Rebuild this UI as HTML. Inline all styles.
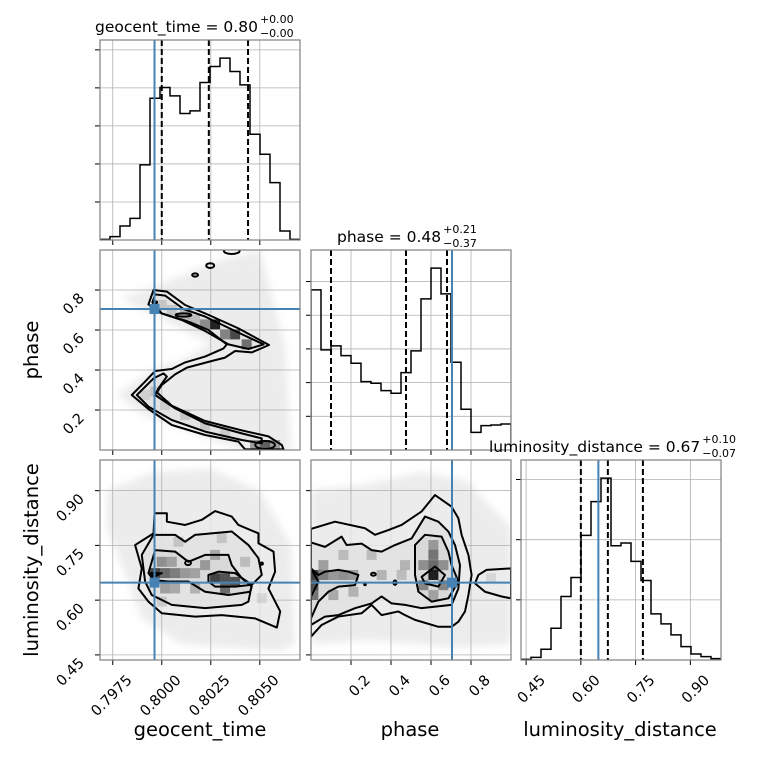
<!DOCTYPE html>
<html><head><meta charset="utf-8"><style>
html,body{margin:0;padding:0;background:#fff;}
svg{display:block;font-family:"DejaVu Sans","Liberation Sans",sans-serif;}
</style></head><body>
<svg id="fig" width="760" height="760" viewBox="0 0 760 760" xmlns="http://www.w3.org/2000/svg">
<defs><filter id="blur" x="-20%" y="-20%" width="140%" height="140%"><feGaussianBlur stdDeviation="4"/></filter></defs>
</svg>
<script>
// ---------- data ----------
const timeDomain=[0.79685,0.80705], phaseDomain=[0,1], lumDomain=[0.436,0.984];
const timeTicks=[0.7975,0.8000,0.8025,0.8050];
const timeTickLabels=["0.7975","0.8000","0.8025","0.8050"];
const phaseTicks=[0.2,0.4,0.6,0.8];
const phaseTickLabels=["0.2","0.4","0.6","0.8"];
const lumTicks=[0.45,0.60,0.75,0.90];
const lumTickLabels=["0.45","0.60","0.75","0.90"];
const truthTime=0.79963, truthPhase=0.705, truthLum=0.648;
const timeQuantiles=[0.8000,0.8024,0.8044];
const phaseQuantiles=[0.10,0.475,0.68];
const lumQuantiles=[0.60,0.674,0.77];
const timeHist=[2,10,42,65,225,425,457,432,379,387,472,520,545,505,465,317,257,172,27,2];
const phaseHist=[480,300,312,283,260,205,200,178,170,232,297,453,545,468,263,122,53,73,75,78];
const lumHist=[2,8,32,95,190,247,373,474,544,342,350,295,238,138,108,75,40,18,10,4];
const timeHistYTicks=[114,228,342,456,570];
const phaseHistYTicks=[101,202,303,404,505];
const lumHistYTicks=[180,360,540];
// time-phase panel
const tpOuter=[[.79932,.728],[.79958,.800],[.80026,.792],[.80119,.725],[.80221,.683],[.80391,.608],[.80547,.525],[.80459,.488],[.80374,.495],[.80323,.462],[.80255,.445],[.80128,.412],[.80068,.378],[.80000,.325],[.79975,.288],[.80051,.222],[.80221,.145],[.80408,.098],[.80544,.068],[.80612,.025],[.80621,.003],[.80425,.003],[.80391,.042],[.80221,.075],[.80051,.125],[.79932,.205],[.79847,.275],[.79915,.342],[.79966,.395],[.80051,.405],[.80119,.438],[.80221,.467],[.80315,.508],[.80332,.528],[.80238,.600],[.80136,.642],[.80000,.683],[.79966,.700]];
const tpInnerA=[[.79952,.738],[.79966,.778],[.80017,.772],[.80111,.705],[.80221,.667],[.80374,.595],[.80519,.528],[.80442,.505],[.80340,.528],[.80221,.595],[.80102,.650],[.80000,.683]];
const tpInnerB=[[.79873,.275],[.79958,.358],[.80009,.383],[.80026,.367],[.79983,.308],[.79966,.275],[.80068,.208],[.80221,.133],[.80408,.083],[.80510,.058],[.80510,.033],[.80408,.050],[.80221,.092],[.80051,.150],[.79932,.217]];
const tpLoops=[[.80111,.675,.0004,.008],[.80247,.922,.0002,.012],[.80170,.875,.00015,.008],[.80357,.995,.0004,.015],[.80527,.025,.0005,.02],[.79966,.738,.0001,.005]];
const tpHaze=[[.7979,.76],[.7997,.82],[.8030,.95],[.8050,1.0],[.8063,.52],[.8066,.0],[.8040,.0],[.7990,.18],[.7977,.28],[.7995,.40],[.8010,.45],[.8025,.53],[.7995,.68]];
const tpCells=[[.80272,.628,1],[.80221,.628,.45],[.80323,.578,.5],[.80374,.578,.8],[.80433,.528,.6],[.80119,.675,.25],[.80051,.700,.15],[.80000,.725,.15],[.80170,.650,.2],[.79966,.292,.15],[.80017,.225,.12],[.80119,.175,.15],[.80221,.125,.15],[.80323,.092,.12],[.80527,.025,.7],[.80476,.025,.4],[.80578,.025,.4],[.79915,.275,.1]];
// time-lum panel
const tlOuter=[[.79864,.751],[.79958,.783],[.79963,.838],[.80026,.838],[.80026,.815],[.80119,.806],[.80204,.820],[.80272,.844],[.80357,.829],[.80391,.806],[.80493,.783],[.80493,.756],[.80570,.733],[.80578,.678],[.80544,.632],[.80604,.569],[.80587,.525],[.80476,.550],[.80306,.559],[.80170,.555],[.80000,.564],[.79932,.596],[.79881,.632],[.79898,.687]];
const tlMid=[[.79898,.724],[.79958,.779],[.80068,.779],[.80119,.760],[.80170,.779],[.80357,.788],[.80442,.751],[.80493,.715],[.80510,.669],[.80459,.642],[.80442,.596],[.80408,.587],[.80221,.578],[.80051,.587],[.79949,.614],[.79915,.651]];
const tlInner=[[.79932,.674],[.79966,.737],[.80068,.733],[.80136,.705],[.80221,.724],[.80340,.724],[.80357,.696],[.80408,.660],[.80459,.637],[.80451,.623],[.80340,.614],[.80221,.623],[.80136,.651],[.80034,.651],[.79958,.655]];
const tlCoreA=[[.79941,.674],[.80000,.674],[.79958,.664]];
const tlCoreB=[[.80238,.651],[.80238,.669],[.80289,.678],[.80374,.674],[.80459,.642],[.80374,.637],[.80272,.637]];
const tlLoops=[[.80134,.702,.00015,.006],[.80510,.700,.00006,.003]];
const tlHaze=[[.7972,.90],[.7995,.95],[.8025,.96],[.8050,.90],[.8066,.75],[.8068,.48],[.8060,.46],[.8010,.48],[.7990,.55],[.7972,.80]];
const tlCells=[[.79966,.674,.8],[.80017,.674,.6],[.80068,.674,.5],[.80000,.705,.4],[.80051,.705,.3],[.80119,.674,.35],[.80170,.674,.3],[.80272,.660,.8],[.80323,.660,.7],[.80374,.650,.7],[.80323,.632,.6],[.80221,.696,.35],[.80272,.724,.3],[.80170,.632,.25],[.80068,.632,.3],[.80017,.632,.35],[.80425,.705,.2],[.80510,.605,.1],[.80085,.760,.15],[.80306,.770,.15],[.80000,.596,.15]];
// phase-lum panel
const plOuter=[[0,.795],[.12,.815],[.27,.797],[.32,.779],[.387,.792],[.453,.806],[.553,.843],[.62,.888],[.703,.856],[.737,.824],[.753,.779],[.787,.724],[.803,.669],[.787,.614],[.77,.569],[.737,.541],[.703,.527],[.637,.527],[.52,.546],[.47,.559],[.437,.569],[.353,.559],[.303,.587],[.253,.564],[.137,.555],[.053,.532],[0,.50]];
const plRight=[[1.0,.687],[.878,.683],[.837,.669],[.82,.646],[.87,.623],[.953,.61],[1.0,.605]];
const plMid=[[0,.758],[.07,.746],[.153,.774],[.178,.751],[.253,.755],[.303,.737],[.353,.733],[.42,.751],[.503,.769],[.57,.829],[.637,.815],[.687,.788],[.72,.751],[.745,.696],[.737,.632],[.703,.587],[.553,.578],[.47,.587],[.403,.591],[.353,.610],[.303,.591],[.22,.578],[.137,.559],[.07,.555],[0,.532]];
const plInnerL=[[0,.687],[.037,.669],[.07,.678],[.137,.683],[.187,.678],[.237,.669],[.22,.641],[.137,.637],[.087,.623],[.037,.596],[0,.550]];
const plInnerR=[[.52,.751],[.57,.779],[.653,.774],[.687,.733],[.703,.696],[.737,.651],[.687,.605],[.603,.596],[.537,.623],[.52,.669]];
const plCoreL=[[0,.687],[.037,.651],[0,.610]];
const plCoreR=[[.553,.664],[.62,.692],[.67,.669],[.637,.637],[.57,.646]];
const plLoops=[[.312,.671,.012,.004],[.42,.648,.008,.006],[.27,.644,.004,.003]];
const plHaze=[[0,.90],[.3,.92],[.55,.95],[.77,.93],[1,.80],[1,.48],[.72,.47],[.3,.49],[0,.48]];
const plCells=[[.612,.669,1],[.612,.724,.55],[.612,.696,.6],[.562,.696,.4],[.662,.696,.4],[.562,.641,.45],[.662,.641,.45],[.612,.614,.3],[.612,.751,.35],[.012,.669,.8],[.012,.641,.7],[.012,.614,.55],[.062,.669,.5],[.062,.696,.35],[.112,.669,.35],[.162,.669,.4],[.212,.669,.35],[.162,.724,.2],[.353,.669,.25],[.453,.669,.2],[.112,.614,.3],[.212,.623,.25],[.303,.724,.2],[.47,.696,.25],[.9,.660,.1]];

// ---------- layout ----------
const NS="http://www.w3.org/2000/svg";
const svg=document.getElementById('fig');
const colX=[100,311,521], rowY=[40,250,460], W=200, H=200;
const BLUE="#4682b4";
function el(tag,attrs,parent){const e=document.createElementNS(NS,tag);for(const k in attrs)e.setAttribute(k,attrs[k]);(parent||svg).appendChild(e);return e;}
function scale(d,r0,r1){return v=>r0+(v-d[0])/(d[1]-d[0])*(r1-r0);}
let clipN=0;
function panel(ci,ri,name){
  const x0=colX[ci],y0=rowY[ri];
  const g=el('g',{});
  
  
  const id='clip'+(clipN++);
  const cp=el('clipPath',{id:id},svg);el('rect',{x:x0,y:y0,width:W,height:H},cp);
  const inner=el('g',{'clip-path':'url(#'+id+')'},g);
  return {g,inner,x0,y0};
}
function grid(p,sx,sy,xt,yt){
  xt.forEach(v=>{const x=sx(v);const l=el('line',{x1:x,x2:x,y1:p.y0,y2:p.y0+H,stroke:'#b0b0b0','stroke-width':0.8},p.inner);});
  yt.forEach(v=>{const y=sy(v);const l=el('line',{x1:p.x0,x2:p.x0+W,y1:y,y2:y,stroke:'#b0b0b0','stroke-width':0.8},p.inner);});
}
function ticks(p,sx,sy,xt,yt,xl,yl){
  xt.forEach((v,i)=>{const x=sx(v);const t=el('line',{x1:x,x2:x,y1:p.y0+H,y2:p.y0+H+5,stroke:'#000','stroke-width':1},p.g);
    if(xl){const ax=x+20, ay=p.y0+H+21;const tx=el('text',{x:ax,y:ay,'font-size':14.5,'text-anchor':'end',transform:`rotate(-45 ${ax} ${ay})`},p.g);tx.textContent=xl[i];}});
  yt.forEach((v,i)=>{const y=sy(v);const t=el('line',{x1:p.x0-5,x2:p.x0,y1:y,y2:y,stroke:'#000','stroke-width':1},p.g);
    if(yl){const ax=p.x0-15, ay=y+9;const tx=el('text',{x:ax,y:ay,'font-size':14.5,'text-anchor':'end',transform:`rotate(-45 ${ax} ${ay})`},p.g);tx.textContent=yl[i];}});
}
function frame(p){const r=el('rect',{x:p.x0,y:p.y0,width:W,height:H,fill:'none',stroke:'#808080','stroke-width':1.2},p.g);}
function hist(p,domain,vals,yTicks,quant,truth,xt,xl,name){
  const ymax=1.1*Math.max(...vals);
  const sx=scale(domain,p.x0,p.x0+W), sy=scale([0,ymax],p.y0+H,p.y0);
  grid(p,sx,sy,xt,yTicks);
  const n=vals.length, bw=(domain[1]-domain[0])/n;
  let d=`M${sx(domain[0])},${sy(0)}`;
  vals.forEach((v,i)=>{d+=` L${sx(domain[0]+i*bw)},${sy(v)} L${sx(domain[0]+(i+1)*bw)},${sy(v)}`;});
  d+=` L${sx(domain[1])},${sy(0)}`;
  const path=el('path',{d:d,fill:'none',stroke:'#000','stroke-width':1.5},p.inner);
  
  quant.forEach(q=>{const l=el('line',{x1:sx(q),x2:sx(q),y1:p.y0,y2:p.y0+H,stroke:'#000','stroke-width':2,'stroke-dasharray':'6,3'},p.inner);});
  const tl=el('line',{x1:sx(truth),x2:sx(truth),y1:p.y0,y2:p.y0+H,stroke:BLUE,'stroke-width':2},p.inner);
  
  ticks(p,sx,sy,xt,yTicks,xl,null);
  frame(p);
}
function poly(p,sx,sy,pts,attrs,name){
  const d='M'+pts.map(a=>sx(a[0])+','+sy(a[1])).join(' L')+' Z';
  const a=Object.assign({d:d},attrs);const e=el('path',a,p.inner);
  return e;
}
function twoD(p,xd,yd,cells,haze,contours,loops,truthX,truthY,xt,yt,xl,yl,name){
  const sx=scale(xd,p.x0,p.x0+W), sy=scale(yd,p.y0+H,p.y0);
  grid(p,sx,sy,xt,yt);
  poly(p,sx,sy,haze,{fill:'#aaa','fill-opacity':0.22,filter:'url(#blur)'},'scatter-haze');
  contours.forEach(c=>poly(p,sx,sy,c,{fill:'#fff','fill-opacity':0.7,stroke:'none'},'density-fill-base'));
  contours.forEach(c=>poly(p,sx,sy,c,{fill:'#000','fill-opacity':0.05,stroke:'none'},'density-fill'));
  const bx=(xd[1]-xd[0])/20, by=(yd[1]-yd[0])/20;
  cells.forEach(c=>{const r=el('rect',{x:sx(c[0]-bx/2),y:sy(c[1]+by/2),width:Math.abs(sx(bx)-sx(0)),height:Math.abs(sy(0)-sy(by)),fill:'#000','fill-opacity':c[2]*0.85},p.inner);
    });
  contours.forEach(c=>poly(p,sx,sy,c,{fill:'none',stroke:'#000','stroke-width':2,'stroke-linejoin':'round'},'contour'));
  loops.forEach(l=>{const e=el('ellipse',{cx:sx(l[0]),cy:sy(l[1]),rx:Math.abs(sx(l[2])-sx(0)),ry:Math.abs(sy(0)-sy(l[3])),fill:'none',stroke:'#000','stroke-width':2},p.inner);
    });
  const vl=el('line',{x1:sx(truthX),x2:sx(truthX),y1:p.y0,y2:p.y0+H,stroke:BLUE,'stroke-width':2},p.inner);
  
  const hl=el('line',{x1:p.x0,x2:p.x0+W,y1:sy(truthY),y2:sy(truthY),stroke:BLUE,'stroke-width':2},p.inner);
  
  const sq=el('rect',{x:sx(truthX)-5,y:sy(truthY)-5,width:10,height:10,fill:BLUE},p.inner);
  
  ticks(p,sx,sy,xt,yt,xl,yl);
  frame(p);
}
let p=panel(0,0,'geocent-time-histogram-panel');
hist(p,timeDomain,timeHist,timeHistYTicks,timeQuantiles,truthTime,timeTicks,null,'geocent-time');
p=panel(1,1,'phase-histogram-panel');
hist(p,phaseDomain,phaseHist,phaseHistYTicks,phaseQuantiles,truthPhase,phaseTicks,null,'phase');
p=panel(2,2,'luminosity-distance-histogram-panel');
hist(p,lumDomain,lumHist,lumHistYTicks,lumQuantiles,truthLum,lumTicks,lumTickLabels,'luminosity-distance');
p=panel(0,1,'time-phase-panel');
twoD(p,timeDomain,phaseDomain,tpCells,tpHaze,[tpOuter,tpInnerA,tpInnerB],tpLoops,truthTime,truthPhase,timeTicks,phaseTicks,null,phaseTickLabels,'tp');
p=panel(0,2,'time-luminosity-panel');
twoD(p,timeDomain,lumDomain,tlCells,tlHaze,[tlOuter,tlMid,tlInner,tlCoreA,tlCoreB],tlLoops,truthTime,truthLum,timeTicks,lumTicks,timeTickLabels,lumTickLabels,'tl');
p=panel(1,2,'phase-luminosity-panel');
twoD(p,phaseDomain,lumDomain,plCells,plHaze,[plOuter,plRight,plMid,plInnerL,plInnerR,plCoreL,plCoreR],plLoops,truthPhase,truthLum,phaseTicks,lumTicks,phaseTickLabels,null,'pl');
</script>
<svg id="labels" style="position:absolute;left:0;top:0" width="760" height="760">
<g font-family="DejaVu Sans, Liberation Sans, sans-serif" fill="#000">
<text id="t1" x="95" y="32" font-size="15.5">geocent_time = 0.80</text>
<text id="t1a" x="248" y="23" font-size="11">+0.00</text>
<text id="t1b" x="248" y="37" font-size="11">−0.00</text>
<text id="t2" x="337" y="242" font-size="15.5">phase = 0.48</text>
<text id="t2a" x="435" y="233" font-size="11">+0.21</text>
<text id="t2b" x="435" y="247" font-size="11">−0.37</text>
<text id="t3" x="489" y="452" font-size="15.5">luminosity_distance = 0.67</text>
<text id="t3a" x="710" y="443" font-size="11">+0.10</text>
<text id="t3b" x="710" y="457" font-size="11">−0.07</text>
<text x="200" y="736" font-size="19.5" text-anchor="middle">geocent_time</text>
<text x="410" y="736" font-size="19.5" text-anchor="middle">phase</text>
<text x="620" y="736" font-size="19.5" text-anchor="middle">luminosity_distance</text>
<text x="38" y="350" font-size="19.5" text-anchor="middle" transform="rotate(-90 38 350)">phase</text>
<text x="38" y="560" font-size="19.5" text-anchor="middle" transform="rotate(-90 38 560)">luminosity_distance</text>
</g></svg>
<script>
[['t1','t1a','t1b'],['t2','t2a','t2b'],['t3','t3a','t3b']].forEach(function(ids){
  var m=document.getElementById(ids[0]);
  var end=m.getBBox().x+m.getComputedTextLength()+2;
  document.getElementById(ids[1]).setAttribute('x',end);
  document.getElementById(ids[2]).setAttribute('x',end);
});
</script>
</body></html>
